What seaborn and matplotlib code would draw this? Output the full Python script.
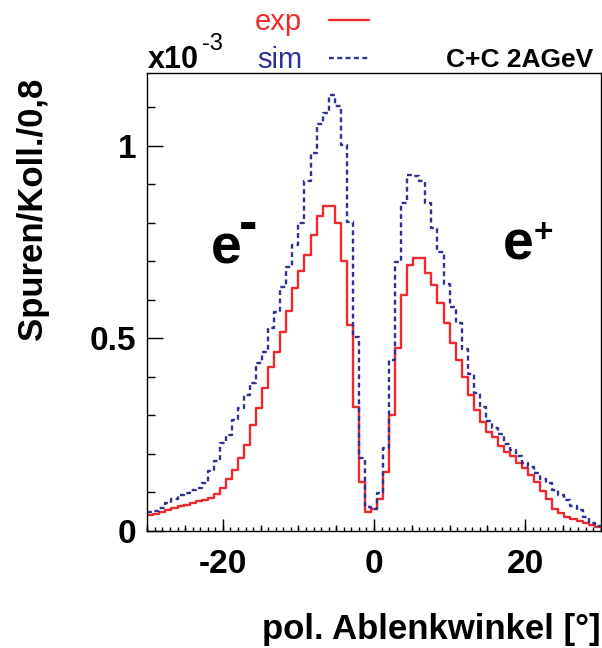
import numpy as np
import pandas as pd
import matplotlib
matplotlib.use('Agg')
import matplotlib.pyplot as plt
import seaborn as sns
from matplotlib.ticker import MultipleLocator, NullLocator

# Histogramme (Einheiten x10^-3), Binbreite 0.8 Grad, von -30 bis 30
bin_width = 0.8
x_lo, x_hi = -30, 30

exp_counts = [
    0.042, 0.043, 0.048, 0.053, 0.058, 0.063, 0.068, 0.073, 0.077, 0.080,
    0.086, 0.095, 0.110, 0.133, 0.158, 0.189, 0.223, 0.274, 0.319, 0.371,
    0.425, 0.465, 0.517, 0.571, 0.630, 0.675, 0.715, 0.768, 0.817, 0.843,
    0.843, 0.798, 0.701, 0.533, 0.321, 0.127, 0.049, 0.056, 0.083, 0.153,
    0.300, 0.474, 0.612, 0.690, 0.708, 0.708, 0.670, 0.638, 0.592, 0.539,
    0.487, 0.443, 0.400, 0.352, 0.314, 0.283, 0.257, 0.244, 0.220, 0.205,
    0.194, 0.177, 0.162, 0.145, 0.127, 0.104, 0.082, 0.056, 0.045, 0.035,
    0.030, 0.026, 0.021, 0.015, 0.010,
]
sim_counts = [
    0.048, 0.052, 0.058, 0.071, 0.082, 0.093, 0.098, 0.105, 0.110, 0.123,
    0.156, 0.181, 0.227, 0.249, 0.287, 0.318, 0.352, 0.383, 0.435, 0.464,
    0.527, 0.569, 0.632, 0.686, 0.742, 0.798, 0.909, 0.982, 1.056, 1.084,
    1.132, 1.103, 1.002, 0.801, 0.504, 0.190, 0.062, 0.057, 0.097, 0.214,
    0.443, 0.697, 0.850, 0.924, 0.922, 0.909, 0.852, 0.785, 0.725, 0.640,
    0.582, 0.540, 0.471, 0.407, 0.357, 0.320, 0.286, 0.266, 0.251, 0.225,
    0.210, 0.194, 0.177, 0.166, 0.151, 0.135, 0.123, 0.106, 0.093, 0.080,
    0.064, 0.054, 0.035, 0.021, 0.012,
]

x_ticks = [-20, 0, 20]
x_ticklabels = ['-20', '0', '20']
y_ticks = [0, 0.5, 1]
y_ticklabels = ['0', '0.5', '1']

RED = '#ee2a2e'
BLUE = '#2e3192'

n_bins = len(exp_counts)
edges = [x_lo + bin_width * i for i in range(n_bins + 1)]
centers = [e + bin_width / 2 for e in edges[:-1]]

df = pd.DataFrame({
    'winkel': centers + centers,
    'wert': exp_counts + sim_counts,
    'quelle': ['exp'] * n_bins + ['sim'] * n_bins,
})

sns.set_style('ticks')
plt.rcParams['font.family'] = ['Liberation Sans', 'DejaVu Sans']
plt.rcParams['lines.scale_dashes'] = False
plt.rcParams['text.color'] = 'black'
plt.rcParams['axes.labelcolor'] = 'black'
plt.rcParams['xtick.color'] = 'black'
plt.rcParams['ytick.color'] = 'black'
plt.rcParams['axes.edgecolor'] = 'black'

fig = plt.figure(figsize=(6.02, 6.48), dpi=100)
ax = fig.add_axes([147.3 / 602, 1 - 530.7 / 648, 453.4 / 602, 457.4 / 648])

exp_df = df[df['quelle'] == 'exp'].reset_index(drop=True)
sim_df = df[df['quelle'] == 'sim'].reset_index(drop=True)
sns.histplot(data=exp_df, x='winkel', weights='wert', bins=edges,
             element='step', fill=False, color=RED, linewidth=1.7, label='exp', ax=ax)
sns.histplot(data=sim_df, x='winkel', weights='wert', bins=edges,
             element='step', fill=False, color=BLUE, linewidth=1.7,
             linestyle=(0, (3.5, 2.5)), label='sim', ax=ax)

ax.set_xlim(x_lo, x_hi)
ax.set_ylim(0, 1.188)

for s in ax.spines.values():
    s.set_linewidth(1.0)
    s.set_color('black')

# Ticks nach innen, ROOT-Stil
ax.set_xticks(x_ticks)
ax.set_xticklabels(x_ticklabels, fontsize=24, fontweight='bold')
ax.set_yticks(y_ticks)
ax.set_yticklabels(y_ticklabels, fontsize=24, fontweight='bold')
ax.xaxis.set_minor_locator(MultipleLocator(1))
ax.yaxis.set_minor_locator(MultipleLocator(0.1))
ax.tick_params(which='both', direction='in', width=1.0, top=False, right=False, colors='black')
ax.tick_params(axis='y', which='major', length=11.5, pad=8)
ax.tick_params(axis='y', which='minor', length=5.8)
ax.tick_params(axis='x', which='major', length=8.6, pad=13)
ax.tick_params(axis='x', which='minor', length=2.9)

sec = ax.secondary_xaxis('bottom')
sec.set_xticks(np.arange(-30, 31, 5))
sec.xaxis.set_minor_locator(NullLocator())
sec.tick_params(direction='in', length=4.3, width=1.0, labelbottom=False, colors='black')
sec.spines['bottom'].set_visible(False)

ax.set_xlabel('pol. Ablenkwinkel [°]', fontsize=25, fontweight='bold', loc='right')
ax.xaxis.set_label_coords(1.0, -0.181)
ax.set_ylabel('Spuren/Koll./0,8', fontsize=25, fontweight='bold')
ax.yaxis.set_label_coords(-0.216, 0.703)

leg = ax.legend(loc='upper left', bbox_to_anchor=(255 / 602, 1 - 8 / 648), bbox_transform=fig.transFigure,
                frameon=False, markerfirst=False, fontsize=21, labelcolor='linecolor',
                handlelength=1.37, handletextpad=0.92, labelspacing=0.35,
                borderpad=0, borderaxespad=0)

# Texte
fig.text(148 / 602, 1 - 68 / 648, 'x10', fontsize=22, fontweight='bold', va='baseline')
fig.text(202 / 602, 1 - 50 / 648, '-3', fontsize=17, va='baseline')
fig.text(593 / 602, 1 - 67 / 648, 'C+C 2AGeV', fontsize=19, fontweight='bold',
         ha='right', va='baseline')

fig.text(211 / 602, 1 - 263 / 648, 'e', fontsize=40, fontweight='bold', va='baseline')
fig.text(239 / 602, 1 - 240 / 648, '-', fontsize=40, fontweight='bold', va='baseline')
fig.text(503 / 602, 1 - 260 / 648, 'e', fontsize=40, fontweight='bold', va='baseline')
fig.text(534 / 602, 1 - 242 / 648, '+', fontsize=24, fontweight='bold', va='baseline')

fig.savefig('out.png', dpi=100)
